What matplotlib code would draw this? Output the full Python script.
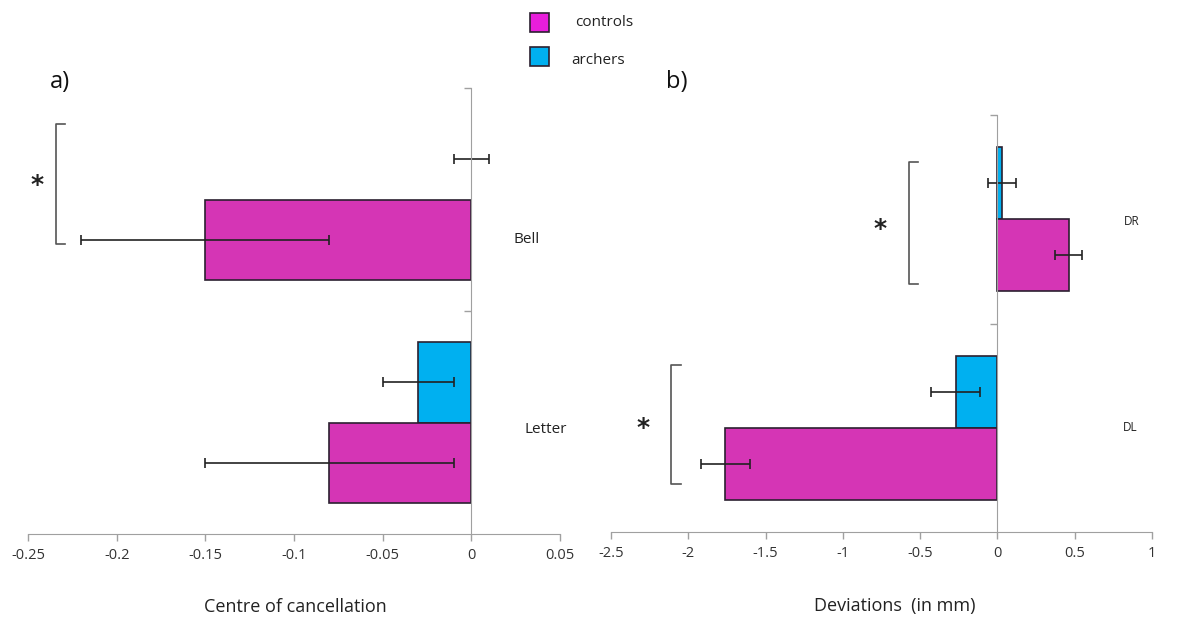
import matplotlib
matplotlib.use('Agg')
import matplotlib.pyplot as plt

plt.rcParams['font.family'] = ['Open Sans', 'DejaVu Sans']

# panel a) centre of cancellation
cats_a = ['Letter', 'Bell']
controls_a = [-0.08, -0.15]
controls_a_err = [0.07, 0.07]
archers_a = [-0.03, 0.0]
archers_a_err = [0.02, 0.01]

# panel b) deviations (mm)
cats_b = ['DL', 'DR']
controls_b = [-1.76, 0.46]
controls_b_err = [0.16, 0.09]
archers_b = [-0.27, 0.03]
archers_b_err = [0.16, 0.09]

ticks_a = [-0.25, -0.2, -0.15, -0.1, -0.05, 0, 0.05]
ticklabels_a = ['-0.25', '-0.2', '-0.15', '-0.1', '-0.05', '0', '0.05']
ticks_b = [-2.5, -2, -1.5, -1, -0.5, 0, 0.5, 1]
ticklabels_b = ['-2.5', '-2', '-1.5', '-1', '-0.5', '0', '0.5', '1']

c_ctrl = '#D535B5'
c_arch = '#00B0F0'
edge = '#2b2030'
grey = '#a0a0a0'

fig = plt.figure(figsize=(11.93, 6.2), dpi=100)
axa = fig.add_axes([28/1193, 86/620, 532/1193, 446/620])
axb = fig.add_axes([611/1193, 88/620, 541/1193, 417/620])


def panel(ax, cats, ctrl, ctrl_err, arch, arch_err, h, xlim, ticks, labels):
    y = list(range(len(cats)))
    ya = [v + h / 2 for v in y]
    yc = [v - h / 2 for v in y]
    # no outline for zero-width bars
    lw_a = [1.2 if v != 0 else 0 for v in arch]
    ax.barh(ya, arch, height=h, color=c_arch, edgecolor=edge, linewidth=lw_a, zorder=2)
    ax.barh(yc, ctrl, height=h, color=c_ctrl, edgecolor=edge, linewidth=1.2, zorder=2)
    ax.errorbar(arch, ya, xerr=arch_err, fmt='none', ecolor='#222222',
                elinewidth=1.2, capsize=3.5, capthick=1.2, zorder=3)
    ax.errorbar(ctrl, yc, xerr=ctrl_err, fmt='none', ecolor='#222222',
                elinewidth=1.2, capsize=3.5, capthick=1.2, zorder=3)
    ax.set_xlim(xlim)
    ax.set_ylim(-0.5, len(cats) - 0.5)
    ax.set_xticks(ticks)
    ax.set_xticklabels(labels, fontsize=10.5, color='#333333')
    ax.set_yticks([0.5, 1.5])
    ax.set_yticklabels([])
    ax.spines['top'].set_visible(False)
    ax.spines['right'].set_visible(False)
    ax.spines['left'].set_position(('data', 0))
    ax.spines['left'].set_color(grey)
    ax.spines['bottom'].set_color(grey)
    ax.spines['left'].set_zorder(4)
    ax.tick_params(axis='both', colors=grey, length=5, width=1)
    ax.tick_params(axis='x', labelcolor='#333333', pad=5)


panel(axa, cats_a, controls_a, controls_a_err, archers_a, archers_a_err,
      0.36, (-0.25, 0.05), ticks_a, ticklabels_a)
panel(axb, cats_b, controls_b, controls_b_err, archers_b, archers_b_err,
      0.345, (-2.5, 1), ticks_b, ticklabels_b)

# category labels
axa.text(0.024, 0.82, 'Bell', fontsize=11, color='#222222', va='center', ha='left')
axa.text(0.030, -0.03, 'Letter', fontsize=11, color='#222222', va='center', ha='left')
axb.text(0.82, 0.99, 'DR', fontsize=8.5, color='#222222', va='center', ha='left')
axb.text(0.81, 0.0, 'DL', fontsize=8.5, color='#222222', va='center', ha='left')


def bracket(ax, x0, x1, y0, y1, sx, sy):
    ax.plot([x1, x0, x0, x1], [y0, y0, y1, y1], color='#555555', lw=1.2,
            clip_on=False, zorder=5)
    ax.text(sx, sy, '*', fontsize=18, fontweight='bold', ha='center', va='center',
            color='#222222', family='DejaVu Sans')


bracket(axa, -0.234, -0.229, 1.34, 0.80, -0.245, 1.065)
bracket(axb, -0.575, -0.517, 1.274, 0.69, -0.76, 0.955)
bracket(axb, -2.11, -2.05, 0.30, -0.27, -2.29, 0.0)

# panel letters
fig.text(50/1193, 1 - 82/620, 'a)', fontsize=17, va='center', ha='left', color='#111111')
fig.text(666/1193, 1 - 82/620, 'b)', fontsize=17, va='center', ha='left', color='#111111')

# axis titles
fig.text(295/1193, 1 - 607/620, 'Centre of cancellation', fontsize=13,
         ha='center', va='center', color='#222222')
fig.text(895/1193, 1 - 606/620, 'Deviations  (in mm)', fontsize=13,
         ha='center', va='center', color='#222222')

# legend
fig.patches.append(plt.Rectangle((530/1193, 1 - 32/620), 19/1193, 19/620,
                                 transform=fig.transFigure, facecolor='#E81EDB',
                                 edgecolor=edge, linewidth=1.2))
fig.patches.append(plt.Rectangle((530/1193, 1 - 66/620), 19/1193, 19/620,
                                 transform=fig.transFigure, facecolor=c_arch,
                                 edgecolor=edge, linewidth=1.2))
fig.text(575/1193, 1 - 23/620, 'controls', fontsize=11, va='center', ha='left', color='#222222')
fig.text(571/1193, 1 - 60/620, 'archers', fontsize=11, va='center', ha='left', color='#222222')

fig.savefig('out.png', dpi=100)
